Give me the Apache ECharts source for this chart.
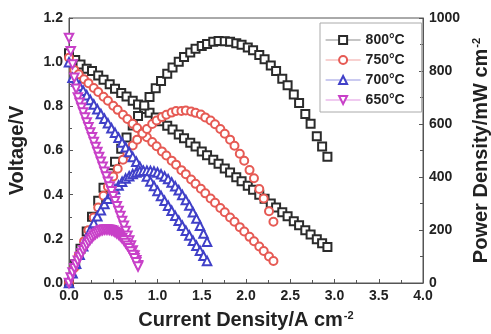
<!DOCTYPE html>
<html><head><meta charset="utf-8">
<script src="https://cdn.jsdelivr.net/npm/echarts@6/dist/echarts.min.js"></script>
<style>html,body{margin:0;padding:0;background:#fff}#c{width:491px;height:334px}</style>
</head><body><div id="c"></div>
<script>
const temps = ['800°C','750°C','700°C','650°C'];
const xTicks = [0, 0.5, 1, 1.5, 2, 2.5, 3, 3.5, 4];
const vTicks = [0, 0.2, 0.4, 0.6, 0.8, 1.0, 1.2];
const pTicks = [0, 200, 400, 600, 800, 1000];

const cur800 = [0,0.07,0.13,0.2,0.26,0.33,0.39,0.46,0.52,0.59,0.65,0.72,0.78,0.85,0.91,0.98,1.04,1.11,1.17,1.24,1.3,1.37,1.43,1.5,1.56,1.63,1.69,1.76,1.82,1.89,1.95,2.02,2.08,2.15,2.21,2.28,2.34,2.41,2.47,2.54,2.6,2.67,2.73,2.8,2.86,2.92];
const volt800 = [1.04,1.01,0.99,0.97,0.96,0.94,0.92,0.9,0.88,0.86,0.845,0.825,0.808,0.788,0.771,0.75,0.733,0.712,0.695,0.673,0.656,0.635,0.618,0.596,0.578,0.558,0.54,0.518,0.5,0.479,0.461,0.44,0.422,0.4,0.382,0.36,0.342,0.32,0.302,0.28,0.261,0.239,0.22,0.198,0.18,0.163];
const pow800 = [0,71,129,194,250,310,359,414,458,507,549,594,630,670,702,735,762,790,813,835,853,870,884,894,902,910,913,912,910,905,899,889,878,860,844,821,800,771,746,711,679,638,601,554,515,476];

const cur750 = [0,0.06,0.11,0.17,0.22,0.28,0.33,0.39,0.44,0.5,0.55,0.61,0.66,0.72,0.77,0.83,0.88,0.94,0.99,1.05,1.1,1.16,1.21,1.27,1.32,1.38,1.43,1.49,1.54,1.6,1.65,1.71,1.76,1.82,1.87,1.93,1.98,2.04,2.09,2.15,2.2,2.26,2.31];
const volt750 = [1.02,0.965,0.945,0.923,0.905,0.883,0.865,0.843,0.825,0.803,0.784,0.762,0.743,0.721,0.702,0.679,0.66,0.638,0.619,0.596,0.577,0.554,0.536,0.511,0.493,0.469,0.449,0.427,0.406,0.383,0.363,0.34,0.32,0.297,0.277,0.253,0.233,0.209,0.189,0.165,0.145,0.12,0.1];
const pow750 = [0,58,104,157,199,247,285,329,363,402,431,465,490,519,541,564,581,600,613,626,635,643,649,649,651,647,642,636,625,613,599,581,563,541,518,488,461,426,395,355,319,271,231];

const cur700 = [0,0.04,0.08,0.12,0.16,0.2,0.24,0.28,0.32,0.36,0.4,0.44,0.48,0.52,0.56,0.6,0.64,0.68,0.72,0.76,0.8,0.84,0.88,0.92,0.96,1.0,1.04,1.08,1.12,1.16,1.2,1.24,1.28,1.32,1.36,1.4,1.44,1.48,1.52,1.56];
const volt700 = [1.0,0.93,0.913,0.892,0.871,0.85,0.829,0.808,0.787,0.765,0.744,0.723,0.701,0.68,0.658,0.636,0.615,0.593,0.571,0.549,0.527,0.505,0.482,0.46,0.439,0.417,0.394,0.372,0.35,0.327,0.304,0.282,0.259,0.237,0.215,0.191,0.169,0.146,0.123,0.1];
const pow700 = [0,37,73,107,139,170,199,226,252,275,298,318,336,354,368,382,394,403,411,417,422,424,424,423,421,417,410,402,392,379,365,350,332,313,292,267,243,216,187,156];

const cur650 = [0,0.02,0.04,0.06,0.08,0.1,0.12,0.14,0.16,0.18,0.2,0.22,0.24,0.26,0.28,0.3,0.32,0.34,0.36,0.38,0.4,0.42,0.44,0.46,0.48,0.5,0.52,0.54,0.56,0.58,0.6,0.62,0.64,0.66,0.68,0.7,0.72,0.74,0.76,0.78];
const volt650 = [1.11,1.05,0.99,0.93,0.88,0.84,0.816,0.794,0.772,0.749,0.727,0.705,0.682,0.66,0.638,0.616,0.593,0.571,0.549,0.526,0.504,0.482,0.459,0.437,0.415,0.393,0.37,0.348,0.326,0.303,0.281,0.259,0.236,0.214,0.192,0.17,0.147,0.125,0.103,0.08];
const pow650 = [0,21,40,56,70,84,98,111,124,135,145,155,164,172,179,185,190,194,198,200,202,202,202,201,199,197,192,188,183,176,169,161,151,141,131,119,106,93,78,62];

const FONT = '"Liberation Sans", Arial, sans-serif';
const TXT = '#222';
const colors = ['#2b2b2b', '#e65a54', '#4040c8', '#c840c8'];
const symbols = ['emptyRect', 'emptyCircle', 'emptyTriangle', 'emptyTriangle'];
const rotates = [0, 0, 0, 180];
const sizes = [8, 8, 8.5, 8.5];
const groups = [
  [cur800, volt800, pow800],
  [cur750, volt750, pow750],
  [cur700, volt700, pow700],
  [cur650, volt650, pow650]
];

const series = [];
groups.forEach((g, k) => {
  const [cur, volt, pow] = g;
  const base = {
    name: temps[k], type: 'line', symbol: symbols[k], symbolRotate: rotates[k],
    symbolSize: sizes[k], showAllSymbol: true, animation: false,
    lineStyle: { opacity: 0, width: 0 },
    itemStyle: { color: colors[k], borderWidth: 1.4 },
    emphasis: { disabled: true }, z: 2 + k
  };
  series.push(Object.assign({}, base, { yAxisIndex: 0, data: cur.map((x, i) => [x, volt[i]]) }));
  series.push(Object.assign({}, base, { yAxisIndex: 1, data: cur.map((x, i) => [x, pow[i]]) }));
});

const nameStyle = {
  fontFamily: FONT, fontSize: 20, fontWeight: 'bold', color: TXT,
  rich: { sup: { fontFamily: FONT, fontSize: 11, fontWeight: 'bold', color: TXT, verticalAlign: 'top', padding: [0, 0, 10, 1] } }
};
const labelStyle = { fontFamily: FONT, fontSize: 14, fontWeight: 'bold', color: TXT };
const axLine = { show: true, lineStyle: { color: '#555', width: 1 } };
const tick = { inside: true, length: 4, lineStyle: { color: '#555' } };
const minor = { show: true, splitNumber: 2, length: 3, lineStyle: { color: '#555' } };

const chart = echarts.init(document.getElementById('c'), null, { renderer: 'canvas' });
chart.setOption({
  animation: false,
  backgroundColor: '#fff',
  grid: { left: 69, right: 68, top: 18, bottom: 51, show: true, borderColor: '#555', borderWidth: 1,
          containLabel: false, outerBoundsMode: 'none' },
  legend: {
    data: temps, orient: 'vertical', left: 320, top: 23,
    itemWidth: 35, itemHeight: 10, itemGap: 6,
    padding: [10, 17, 5, 5], borderColor: '#aaa', borderWidth: 1,
    textStyle: { fontFamily: FONT, fontSize: 14, fontWeight: 'bold', color: TXT },
    lineStyle: { opacity: 0.55, width: 1.2 }
  },
  xAxis: {
    type: 'value', min: xTicks[0], max: xTicks[xTicks.length - 1], interval: 0.5,
    name: 'Current Density/A cm{sup|-2}', nameLocation: 'middle', nameGap: 27, nameTextStyle: nameStyle,
    axisLine: axLine, axisTick: tick, minorTick: minor,
    axisLabel: Object.assign({ margin: 6, formatter: v => v.toFixed(1) }, labelStyle),
    splitLine: { show: false }
  },
  yAxis: [{
    type: 'value', min: vTicks[0], max: vTicks[vTicks.length - 1], interval: 0.2,
    name: 'Voltage/V', nameLocation: 'middle', nameRotate: 90, nameGap: 42, nameTextStyle: nameStyle,
    axisLine: axLine, axisTick: tick, minorTick: minor,
    axisLabel: Object.assign({ margin: 6, formatter: v => v.toFixed(1) }, labelStyle),
    splitLine: { show: false }
  }, {
    type: 'value', position: 'right', min: pTicks[0], max: pTicks[pTicks.length - 1], interval: 200,
    name: 'Power Density/mW cm{sup|-2}', nameLocation: 'middle', nameRotate: 90, nameGap: 48, nameTextStyle: nameStyle,
    axisLine: axLine, axisTick: tick, minorTick: minor,
    axisLabel: Object.assign({ margin: 6, formatter: v => String(v) }, labelStyle),
    splitLine: { show: false }
  }],
  series: series
});
</script>
</body></html>
